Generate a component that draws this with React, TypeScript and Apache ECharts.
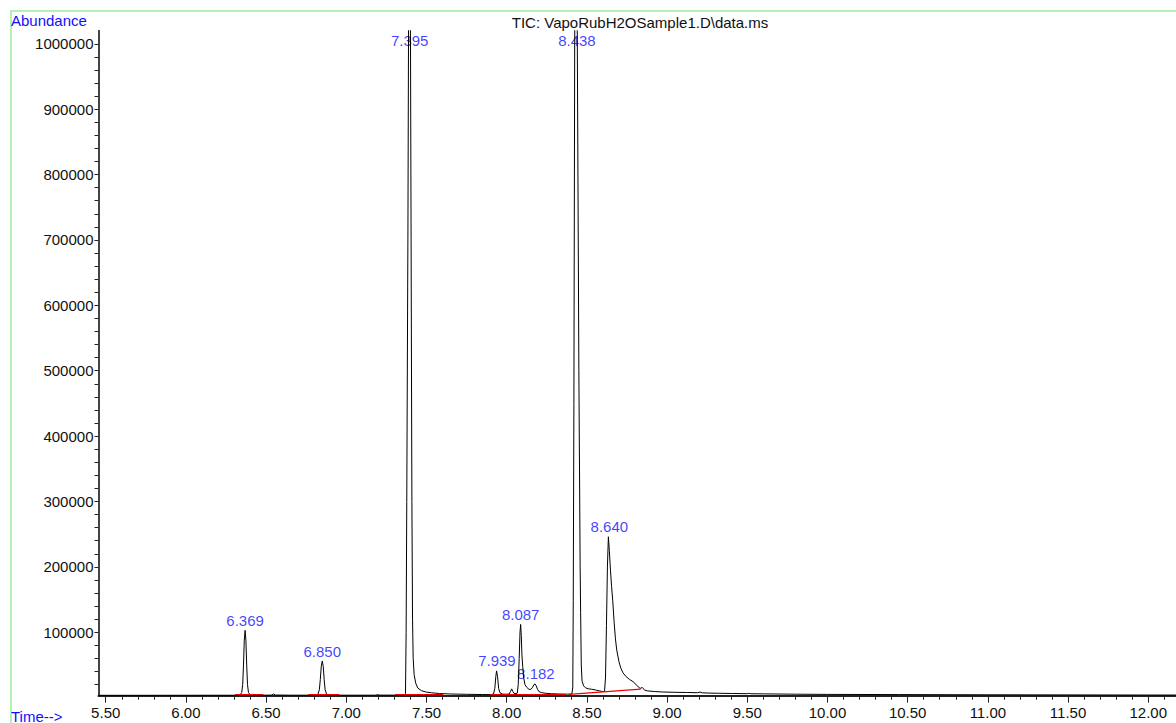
import React, { useEffect, useRef } from "react";
import * as echarts from "echarts";

// ---- Data ----
const retentionTimes = [
  5.455, 5.6, 5.8, 6.0, 6.2, 6.32, 6.338, 6.348, 6.354, 6.359, 6.364, 6.369, 6.374, 6.379, 6.384, 6.39, 6.4, 6.42,
  6.5, 6.535, 6.546, 6.558, 6.65, 6.8, 6.822, 6.832, 6.838, 6.844, 6.85, 6.856, 6.862, 6.868, 6.878, 6.895,
  7.0, 7.185, 7.195, 7.205, 7.3, 7.36, 7.369, 7.373, 7.377, 7.384, 7.389, 7.394, 7.399, 7.404, 7.409, 7.413,
  7.417, 7.423, 7.433, 7.446, 7.47, 7.5, 7.53, 7.58, 7.65, 7.75, 7.85, 7.905, 7.918, 7.926, 7.932, 7.937,
  7.943, 7.95, 7.958, 7.972, 7.995, 8.015, 8.024, 8.031, 8.038, 8.046, 8.058, 8.066, 8.072, 8.078, 8.083,
  8.087, 8.091, 8.095, 8.1, 8.106, 8.114, 8.124, 8.138, 8.15, 8.162, 8.17, 8.177, 8.184, 8.192, 8.2, 8.215,
  8.24, 8.28, 8.33, 8.38, 8.406, 8.412, 8.415, 8.419, 8.424, 8.432, 8.44, 8.45, 8.458, 8.461, 8.465, 8.47,
  8.48, 8.492, 8.51, 8.53, 8.545, 8.56, 8.58, 8.6, 8.61, 8.616, 8.622, 8.628, 8.634, 8.64, 8.647, 8.654,
  8.661, 8.67, 8.678, 8.686, 8.7, 8.712, 8.725, 8.745, 8.765, 8.787, 8.805, 8.82, 8.832, 8.846, 8.86, 8.88,
  8.92, 8.97, 9.05, 9.12, 9.19, 9.205, 9.22, 9.26, 9.32, 9.4, 9.5, 9.51, 9.52, 9.6, 9.8, 10.0, 10.45, 11.0,
  11.5, 12.0, 12.173,
];
const abundances = [
  3600, 3600, 3600, 3650, 3700, 3700, 4200, 8000, 20000, 50000, 88000, 103000, 88000, 50000, 20000, 8000, 4300, 3800,
  3800, 4000, 5500, 4000, 3800, 3800, 4500, 12000, 28000, 48000, 56000, 48000, 28000, 12000, 4800, 3900,
  3800, 3800, 4800, 3900, 3900, 4200, 6000, 100000, 300000, 700000, 1100000, 1300000, 1100000, 700000, 300000, 120000,
  60000, 35000, 22000, 14500, 10500, 8500, 7500, 6300, 5600, 5100, 4800, 4700, 5800, 14000, 32000, 41000,
  32000, 14000, 7500, 5600, 5200, 5500, 9500, 13400, 9500, 6500, 6200, 7000, 20000, 60000, 100000,
  112000, 95000, 65000, 47500, 30000, 20000, 16000, 13000, 12500, 16000, 20000, 21000, 18000, 13000, 9500, 7800,
  6800, 6000, 5600, 5400, 5500, 15000, 149000, 450000, 1000000, 1400000, 1020000, 500000, 200000, 130000, 50000, 25000,
  18000, 15000, 13500, 12800, 12300, 11300, 10300, 9300, 9500, 30000, 110000, 200000, 246000, 225000, 195000, 170000,
  149000, 115000, 90000, 73000, 55000, 45000, 38000, 32000, 28000, 24600, 20500, 16500, 14200, 15500, 11500, 10300,
  9400, 8700, 8200, 7900, 7600, 8500, 7400, 7000, 6700, 6400, 6100, 6600, 6000, 5800, 5300, 5000, 4700, 4400,
  4200, 4000, 4000,
];

const peakLabelTimes = [6.369, 6.85, 7.395, 7.939, 8.087, 8.182, 8.438, 8.64];
const peakLabelTexts = ["6.369", "6.850", "7.395", "7.939", "8.087", "8.182", "8.438", "8.640"];
const peakApexAbundances = [103000, 56000, 1300000, 41000, 112000, 21000, 1400000, 246000];

// integration baselines (red)
const baselineStartTimes = [6.306, 6.763, 7.304, 7.895, 8.151, 8.39];
const baselineStartValues = [4600, 4600, 4600, 4600, 4700, 5000];
const baselineEndTimes = [6.482, 6.956, 7.605, 8.151, 8.37, 8.835];
const baselineEndValues = [4600, 4600, 5200, 4700, 4700, 13000];

const xTickLabels = [5.5, 6.0, 6.5, 7.0, 7.5, 8.0, 8.5, 9.0, 9.5, 10.0, 10.5, 11.0, 11.5, 12.0];
const yTickLabels = [100000, 200000, 300000, 400000, 500000, 600000, 700000, 800000, 900000, 1000000];

const X_MIN = 5.455;
const X_MAX = 12.173;
const Y_MIN = 3000;
const Y_MAX = 1020000;

const FONT = "'Liberation Sans', Arial, Helvetica, sans-serif";
const BLUE = "#1010ff";

export default function App() {
  const ref = useRef<HTMLDivElement>(null);

  useEffect(() => {
    if (!ref.current) return;
    const chart = echarts.init(ref.current, undefined, { renderer: "svg" });

    const trace = retentionTimes.map((t, i) => [t, abundances[i]]);
    const segments = baselineStartTimes.map((t, i) => ({
      coords: [
        [t, baselineStartValues[i]],
        [baselineEndTimes[i], baselineEndValues[i]],
      ],
    }));
    const labels = peakLabelTimes.map((t, i) => {
      const clipped = peakApexAbundances[i] > Y_MAX;
      return {
        name: peakLabelTexts[i],
        value: [t, clipped ? Y_MAX : peakApexAbundances[i]],
        label: { position: clipped ? "bottom" : "top", distance: 2 },
      };
    });

    const minorTicks: number[] = [];
    for (let k = 55; k <= 121; k++) minorTicks.push(k / 10);
    const yMinorTicks: number[] = [];
    for (let k = 1; k <= 50; k++) yMinorTicks.push(k * 20000);

    chart.setOption({
      animation: false,
      backgroundColor: "#ffffff",
      grid: { left: 98.5, top: 30.7, width: 1077.5, height: 665, containLabel: false },
      graphic: [
        {
          type: "rect",
          silent: true,
          z: -10,
          shape: { x: 11, y: 11, width: 1400, height: 900 },
          style: { fill: "none", stroke: "#9aee9a", lineWidth: 1.5 },
        },
        {
          type: "text",
          x: 11,
          y: 20.5,
          style: { text: "Abundance", fill: BLUE, font: `15px ${FONT}`, align: "left", verticalAlign: "middle" },
        },
        {
          type: "text",
          x: 640,
          y: 22.5,
          style: {
            text: "TIC: VapoRubH2OSample1.D\\data.ms",
            fill: "#111111",
            font: `15px ${FONT}`,
            align: "center",
            verticalAlign: "middle",
          },
        },
        {
          type: "text",
          x: 11,
          y: 716,
          style: { text: "Time-->", fill: BLUE, font: `15px ${FONT}`, align: "left", verticalAlign: "middle" },
        },
      ],
      xAxis: [
        {
          type: "value",
          min: X_MIN,
          max: X_MAX,
          position: "bottom",
          axisLine: { show: true, onZero: false, lineStyle: { color: "#222222", width: 2 } },
          axisTick: { show: true, customValues: xTickLabels, length: 7, lineStyle: { color: "#222222", width: 1 } },
          axisLabel: {
            show: true,
            customValues: xTickLabels,
            formatter: (v: number) => v.toFixed(2),
            color: "#111111",
            fontSize: 15,
            fontFamily: FONT,
            margin: 9,
          },
          splitLine: { show: false },
        },
        {
          type: "value",
          min: X_MIN,
          max: X_MAX,
          position: "bottom",
          axisLine: { show: false, onZero: false },
          axisTick: { show: true, customValues: minorTicks, length: 4, lineStyle: { color: "#222222", width: 1 } },
          axisLabel: { show: false },
          splitLine: { show: false },
        },
      ],
      yAxis: {
        type: "value",
        min: Y_MIN,
        max: Y_MAX,
        axisLine: { show: true, lineStyle: { color: "#444444", width: 2 } },
        axisTick: { show: true, customValues: yMinorTicks, length: 4, lineStyle: { color: "#222222", width: 1 } },
        axisLabel: {
          show: true,
          customValues: yTickLabels,
          formatter: (v: number) => String(Math.round(v)),
          color: "#111111",
          fontSize: 15,
          fontFamily: FONT,
          margin: 5,
        },
        splitLine: { show: false },
      },
      series: [
        {
          type: "line",
          data: trace,
          xAxisIndex: 0,
          showSymbol: false,
          symbol: "none",
          clip: true,
          lineStyle: { color: "#000000", width: 1 },
          z: 2,
        },
        {
          type: "lines",
          coordinateSystem: "cartesian2d",
          xAxisIndex: 0,
          data: segments,
          lineStyle: { color: "#ee0000", width: 1.2, opacity: 1, curveness: 0 },
          z: 3,
        },
        {
          type: "scatter",
          xAxisIndex: 0,
          data: labels,
          symbolSize: 1,
          clip: false,
          itemStyle: { color: "rgba(0,0,0,0)" },
          label: {
            show: true,
            formatter: (p: any) => p.name,
            color: BLUE,
            fontSize: 15,
            fontFamily: FONT,
          },
          z: 1,
        },
      ],
    });

    return () => chart.dispose();
  }, []);

  return (
    <div
      ref={ref}
      style={{ position: "fixed", left: 0, top: 0, width: 1176, height: 723, background: "#ffffff" }}
    />
  );
}
